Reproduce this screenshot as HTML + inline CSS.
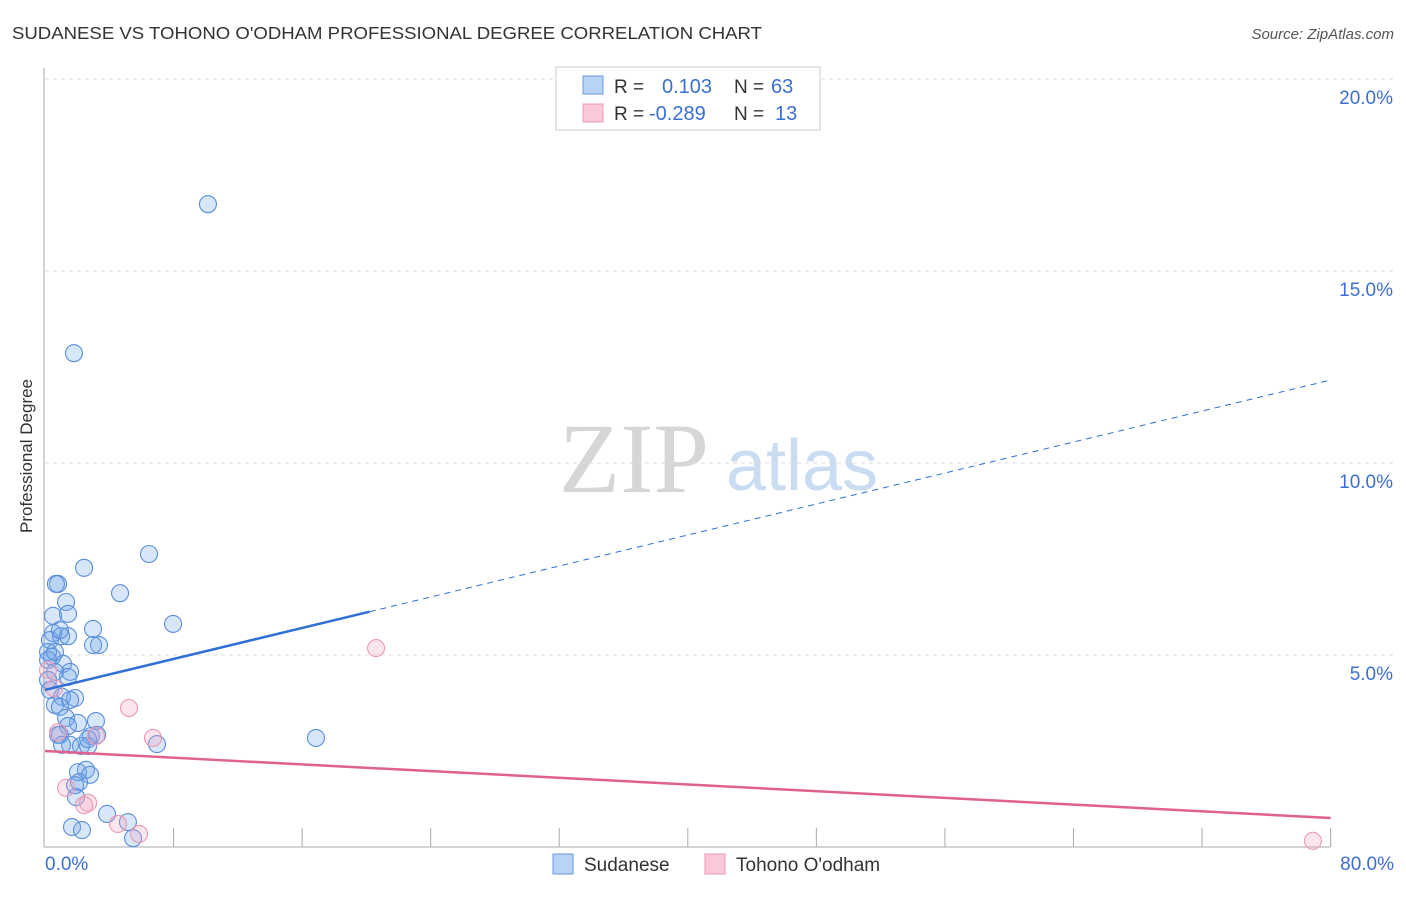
<!DOCTYPE html>
<html><head><meta charset="utf-8"><style>
body{margin:0;background:#fff;font-family:"Liberation Sans",sans-serif;}
</style></head><body>
<svg id="chart" width="1406" height="892" xmlns="http://www.w3.org/2000/svg" style="font-family:'Liberation Sans',sans-serif">
<text x="12" y="39" font-size="17.5" fill="#333" textLength="750" lengthAdjust="spacingAndGlyphs">SUDANESE VS TOHONO O'ODHAM PROFESSIONAL DEGREE CORRELATION CHART</text>
<text x="1394" y="39" font-size="15" fill="#555" font-style="italic" text-anchor="end">Source: ZipAtlas.com</text>
<text x="32" y="456" font-size="17" fill="#333" text-anchor="middle" transform="rotate(-90 32 456)">Professional Degree</text>
<g>
<text x="634" y="492" font-size="100" fill="#d6d6d6" style="font-family:'Liberation Serif',serif" text-anchor="middle">ZIP</text>
<text x="802" y="490" font-size="72" fill="#c9dcf2" text-anchor="middle">atlas</text>
</g>
<g id="grid"></g>
<g id="axes"></g>
<g id="marks"></g>
<g>
<rect x="556" y="67" width="264" height="63" fill="#fff" stroke="#ccc"/>
<rect x="583" y="76" width="20" height="18" fill="#b8d3f5" stroke="#6a9ae0"/>
<rect x="583" y="104" width="20" height="18" fill="#fbc8d7" stroke="#ec9ab5"/>
<text x="614" y="93" font-size="19" fill="#333">R = </text><text x="662" y="93" font-size="20" fill="#3b6fd4">0.103</text>
<text x="734" y="93" font-size="19" fill="#333">N = </text><text x="771" y="93" font-size="20" fill="#3b6fd4">63</text>
<text x="614" y="120" font-size="19" fill="#333">R = </text><text x="649" y="120" font-size="20" fill="#3b6fd4">-0.289</text>
<text x="734" y="120" font-size="19" fill="#333">N = </text><text x="775" y="120" font-size="20" fill="#3b6fd4">13</text>
</g>
<g>
<rect x="553" y="854" width="20" height="20" fill="#b8d3f5" stroke="#6a9ae0"/>
<text x="584" y="871" font-size="19" fill="#333">Sudanese</text>
<rect x="705" y="854" width="20" height="20" fill="#fbc8d7" stroke="#ec9ab5"/>
<text x="736" y="871" font-size="19" fill="#333">Tohono O'odham</text>
</g>
</svg>
<script>
const sudX=[10.14,1.80,6.47,2.43,0.81,0.68,4.67,1.31,1.43,0.50,7.97,2.99,3.36,2.99,0.50,1.00,1.43,0.31,0.19,0.44,0.19,1.12,1.56,1.43,0.62,0.31,1.06,1.87,1.56,0.62,0.93,16.86,3.17,1.31,2.05,1.43,0.93,2.86,3.24,6.97,1.56,2.24,2.68,2.55,2.05,2.80,2.12,1.87,1.93,3.86,1.68,2.30,5.16,5.48,0.62,0.93,2.68,0.81,1.06,0.19];
const sudY=[16.74,12.86,7.63,7.27,6.85,6.85,6.61,6.38,6.07,6.02,5.81,5.68,5.26,5.26,5.57,5.49,5.49,5.39,5.08,4.95,4.87,4.77,4.56,4.43,4.56,4.09,3.91,3.88,3.83,3.70,3.65,2.84,3.28,3.36,3.23,3.15,2.92,2.89,2.92,2.68,2.66,2.63,2.63,2.01,1.95,1.88,1.69,1.61,1.30,0.86,0.52,0.44,0.65,0.23,5.08,5.65,2.81,2.92,2.66,4.35];
const tohX=[20.6,5.23,6.72,3.17,0.81,1.31,2.68,2.43,4.54,5.85,78.9,0.56,0.19];
const tohY=[5.18,3.62,2.84,2.89,2.99,1.54,1.15,1.09,0.60,0.34,0.16,4.14,4.61];
const yTicks=[5,10,15,20];
const yTickLabels=["5.0%","10.0%","15.0%","20.0%"];
const xTickLabels=["0.0%","80.0%"];
const sudTrend=[4.09,12.16];
const tohTrend=[2.5,0.755];
const sudSolidEnd=20.2;
const X=v=>45+v*16.07, Y=v=>847-v*38.4;
const NS="http://www.w3.org/2000/svg";
function mk(tag,attrs,parent){const e=document.createElementNS(NS,tag);for(const k in attrs)e.setAttribute(k,attrs[k]);document.getElementById(parent).appendChild(e);return e;}
yTicks.forEach((t,i)=>{
 const g=mk('line',{x1:45,x2:1394,y1:Y(t),y2:Y(t),stroke:'#ddd','stroke-dasharray':'4,4'},'grid');
 
 
 const tx=mk('text',{x:1393,y:Y(t)+25,'font-size':19,fill:'#3b6fd4','text-anchor':'end'},'axes');
 tx.textContent=yTickLabels[i];
 
 
});
let a=mk('line',{x1:44,x2:44,y1:68,y2:847,stroke:'#aaa'},'axes');


a=mk('line',{x1:44,x2:1330,y1:847,y2:847,stroke:'#aaa'},'axes');


for(let i=1;i<=10;i++){const t=mk('line',{x1:X(i*8),x2:X(i*8),y1:828,y2:847,stroke:'#aaa'},'axes');
 
 }
[[0,'start',45],[80,'end',1394]].forEach((d,i)=>{const t=mk('text',{x:d[2],y:870,'font-size':19,fill:'#3b6fd4','text-anchor':d[1]},'axes');t.textContent=xTickLabels[i];
 
 });
sudX.forEach((x,i)=>{const c=mk('circle',{cx:X(x),cy:Y(sudY[i]),r:8.5,fill:'rgba(110,165,235,0.28)',stroke:'#5b8fdc','stroke-width':1.1},'marks');
 
 });
tohX.forEach((x,i)=>{const c=mk('circle',{cx:X(x),cy:Y(tohY[i]),r:8.5,fill:'rgba(245,160,190,0.28)',stroke:'#eb9ab5','stroke-width':1.1},'marks');
 
 });
const sy=x=>sudTrend[0]+(sudTrend[1]-sudTrend[0])*x/80;
let l=mk('line',{x1:X(0),y1:Y(sy(0)),x2:X(sudSolidEnd),y2:Y(sy(sudSolidEnd)),stroke:'#2f6fd6','stroke-width':2.5},'marks');


l=mk('line',{x1:X(sudSolidEnd),y1:Y(sy(sudSolidEnd)),x2:X(80),y2:Y(sy(80)),stroke:'#2f6fd6','stroke-width':1,'stroke-dasharray':'6,5'},'marks');


l=mk('line',{x1:X(0),y1:Y(tohTrend[0]),x2:X(80),y2:Y(tohTrend[1]),stroke:'#e0608e','stroke-width':2.5},'marks');


</script>
</body></html>
